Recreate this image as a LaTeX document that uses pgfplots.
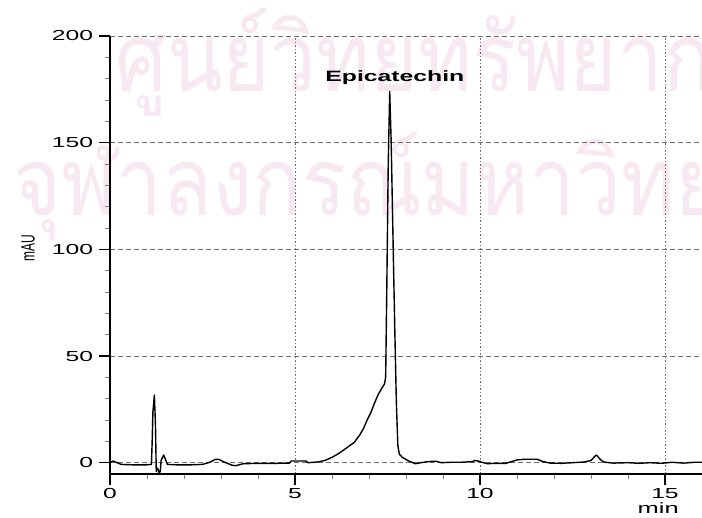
\documentclass[border=0pt]{standalone}
\usepackage{fontspec}
\setmainfont{Liberation Sans}
\newfontfamily\thaifont[Script=Thai]{Loma}
\usepackage{pgfplots}
\pgfplotsset{compat=1.18}
\definecolor{wm}{RGB}{248,232,242}
\definecolor{gridc}{RGB}{110,110,110}
\pgfplotstableread{
x y
0.00 0.0
0.08 0.8
0.15 0.3
0.30 -0.8
0.60 -1.0
1.00 -1.0
1.12 -0.8
1.14 10
1.16 24
1.20 31.7
1.23 17
1.25 -4.2
1.27 -2.5
1.30 -3
1.33 -5
1.36 -4
1.38 1
1.42 2.5
1.45 3.6
1.50 1.5
1.55 -0.8
1.80 -1.0
2.20 -1.0
2.50 -0.8
2.70 0.2
2.85 1.6
2.95 1.5
3.10 0.2
3.30 -1.2
3.40 -1.4
3.60 -0.5
4.00 -0.3
4.50 -0.3
4.85 -0.2
4.90 0.8
5.30 0.8
5.35 0.0
5.60 0.3
5.80 1.0
6.00 2.5
6.20 4.5
6.40 7
6.60 9.5
6.75 13
6.85 16
6.95 20
7.05 23.5
7.15 28
7.25 32
7.35 35
7.42 37
7.45 40
7.48 80
7.52 140
7.56 174
7.60 150
7.66 95
7.70 60
7.74 28
7.78 8
7.82 4
7.90 2.5
8.05 1
8.25 -0.5
8.40 0
8.60 0.5
8.80 0.7
8.95 0
9.20 0.2
9.50 0.2
9.80 0.5
9.85 1.0
9.95 0.8
10.05 0.2
10.20 -0.5
10.40 -0.3
10.70 -0.3
10.85 0.5
11.00 1.3
11.20 1.6
11.55 1.6
11.70 0.5
11.90 -0.2
12.20 -0.3
12.50 0.0
12.80 0.3
13.00 1.0
13.10 3.0
13.15 3.6
13.25 1.5
13.35 0.3
13.60 -0.2
14.00 0.0
14.30 -0.3
14.60 0.0
14.90 -0.3
15.20 0.2
15.50 -0.2
15.80 0.2
16.00 0.2
}\chrom
\begin{document}
\begin{tikzpicture}
\node[anchor=base west, text=wm, font=\thaifont\fontsize{95}{95}\selectfont, inner sep=0pt, xscale=0.86] at (5pt,382pt) {ศูนย์วิทยทรัพยากร};
\node[anchor=base west, text=wm, font=\thaifont\fontsize{95}{95}\selectfont, inner sep=0pt, xscale=0.86] at (-97pt,258pt) {จุฬาลงกรณ์มหาวิทยาลัย};
\begin{axis}[
  width=592pt, height=438pt, scale only axis,
  xmin=0, xmax=16, ymin=-5.3, ymax=200,
  axis x line=bottom, axis y line=left,
  axis line style={-, line width=1.6pt, black},
  xtick={0,5,10,15}, ytick={0,50,100,150,200},
  minor tick num=4,
  tick align=outside,
  major tick length=11pt, minor tick length=5pt,
  every major tick/.append style={line width=1.6pt, black},
  every minor tick/.append style={line width=0.6pt, gray},
  xmajorgrids, ymajorgrids,
  x grid style={gridc, line width=0.8pt, dash pattern=on 1.5pt off 2pt},
  y grid style={gridc, line width=0.8pt, dash pattern=on 5pt off 3pt},
  /pgf/number format/assume math mode=true,
  ticklabel style={font=\fontsize{14.5}{14.5}\selectfont, xscale=1.7},
  xlabel={min}, ylabel={\scalebox{1}[1.6]{mAU}},
  xlabel style={font=\fontsize{15}{15}\selectfont, xscale=1.7, at={(axis description cs:0.926,0)}, anchor=center, yshift=-34pt},
  ylabel style={font=\fontsize{12}{12}\selectfont, at={(axis description cs:-0.1385,0.516)}, anchor=center},
]
\addplot[black, line width=1.4pt, line join=round] table[x=x, y=y] {\chrom};
\node[font=\bfseries\fontsize{15}{15}\selectfont, xscale=1.65] at (axis cs:7.7,180.5) {Epicatechin};
\end{axis}
\pgfresetboundingbox
\path[use as bounding box] (-110pt,-44pt) rectangle (592pt,474pt);
\end{tikzpicture}
\end{document}
